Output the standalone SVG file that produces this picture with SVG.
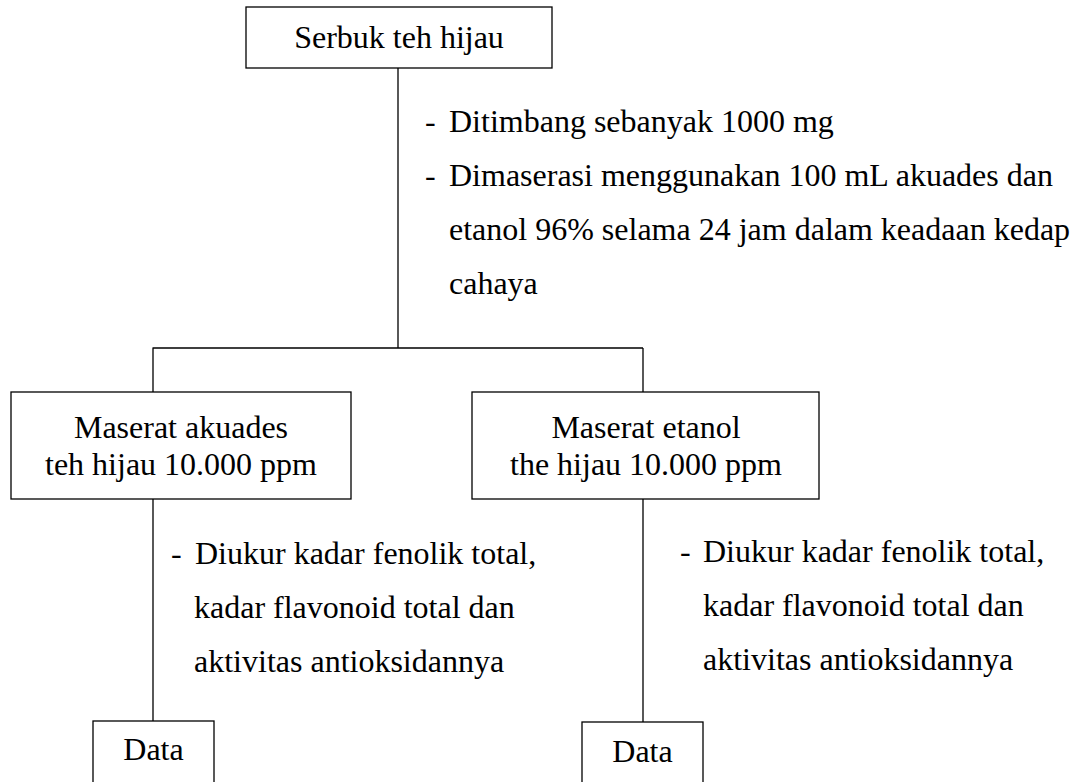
<svg xmlns="http://www.w3.org/2000/svg" width="1081" height="782" viewBox="0 0 1081 782">
<defs>
<rect id="boxproto" width="1" height="1"/>
</defs>
<rect width="1081" height="782" fill="#fff"/>
<g id="connectors" stroke="#000" stroke-width="1.3" fill="none">
<path d="M398,68 V348 M152.5,348 H643 M153,348 V392 M643,348 V392 M153,499 V721 M643,499 V722"/>
</g>
<g id="node-serbuk">
<rect x="246" y="7" width="306" height="61" fill="#fff" stroke="#000" stroke-width="1.3"/>
<text x="399" y="48" text-anchor="middle" font-family="Liberation Serif, serif" font-size="32">Serbuk teh hijau</text>
</g>
<g id="note-top">
<text x="425" y="132" font-family="Liberation Serif, serif" font-size="32">-</text>
<text x="449" y="132" font-family="Liberation Serif, serif" font-size="32">Ditimbang sebanyak 1000 mg</text>
<text x="425" y="186" font-family="Liberation Serif, serif" font-size="32">-</text>
<text x="449" y="186" font-family="Liberation Serif, serif" font-size="32">Dimaserasi menggunakan 100 mL akuades dan</text>
<text x="449" y="240" font-family="Liberation Serif, serif" font-size="32">etanol 96% selama 24 jam dalam keadaan kedap</text>
<text x="449" y="294" font-family="Liberation Serif, serif" font-size="32">cahaya</text>
</g>
<g id="node-akuades">
<rect x="11" y="392" width="340" height="107" fill="#fff" stroke="#000" stroke-width="1.3"/>
<text x="181" y="438" text-anchor="middle" font-family="Liberation Serif, serif" font-size="32">Maserat akuades</text>
<text x="181" y="475" text-anchor="middle" font-family="Liberation Serif, serif" font-size="32">teh hijau 10.000 ppm</text>
</g>
<g id="node-etanol">
<rect x="472" y="392" width="347" height="107" fill="#fff" stroke="#000" stroke-width="1.3"/>
<text x="646" y="438" text-anchor="middle" font-family="Liberation Serif, serif" font-size="32">Maserat etanol</text>
<text x="646" y="475" text-anchor="middle" font-family="Liberation Serif, serif" font-size="32">the hijau 10.000 ppm</text>
</g>
<g id="note-left">
<text x="171" y="564" font-family="Liberation Serif, serif" font-size="32">-</text>
<text x="195" y="564" font-family="Liberation Serif, serif" font-size="32">Diukur kadar fenolik total,</text>
<text x="194" y="618" font-family="Liberation Serif, serif" font-size="32">kadar flavonoid total dan</text>
<text x="194" y="672" font-family="Liberation Serif, serif" font-size="32">aktivitas antioksidannya</text>
</g>
<g id="note-right">
<text x="680" y="562" font-family="Liberation Serif, serif" font-size="32">-</text>
<text x="703" y="562" font-family="Liberation Serif, serif" font-size="32">Diukur kadar fenolik total,</text>
<text x="703" y="616" font-family="Liberation Serif, serif" font-size="32">kadar flavonoid total dan</text>
<text x="703" y="670" font-family="Liberation Serif, serif" font-size="32">aktivitas antioksidannya</text>
</g>
<g id="node-data-left">
<rect x="93" y="721" width="121" height="80" fill="#fff" stroke="#000" stroke-width="1.3"/>
<text x="153.5" y="760" text-anchor="middle" font-family="Liberation Serif, serif" font-size="32">Data</text>
</g>
<g id="node-data-right">
<rect x="582" y="722" width="121" height="80" fill="#fff" stroke="#000" stroke-width="1.3"/>
<text x="642.5" y="762" text-anchor="middle" font-family="Liberation Serif, serif" font-size="32">Data</text>
</g>
</svg>
